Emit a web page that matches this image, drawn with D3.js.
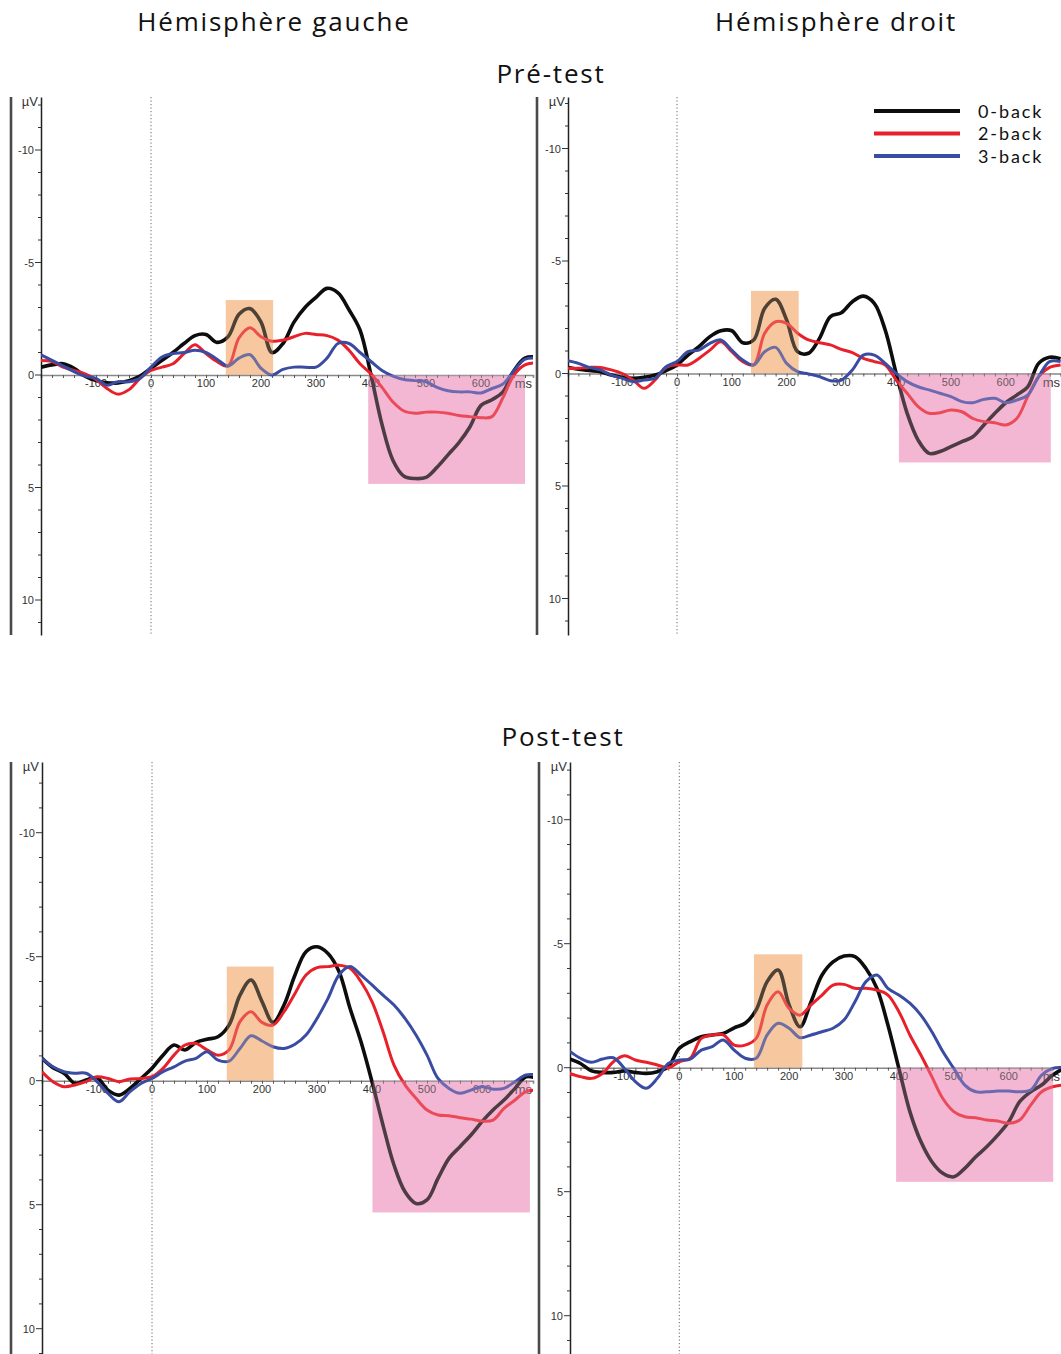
<!DOCTYPE html>
<html><head><meta charset="utf-8">
<script src="https://cdn.jsdelivr.net/npm/d3@7/dist/d3.min.js"></script>
<style>body{margin:0;background:#fff}svg{display:block}</style>
</head><body>
<svg id="c" width="1061" height="1354"></svg>
<script>
// ---------- DATA ----------
const times = d3.range(-200, 701, 20); // ms, -200 .. 700
const seriesNames = ["0-back", "2-back", "3-back"];
const hemispheres = ["Hémisphère gauche", "Hémisphère droit"];
const sessions = ["Pré-test", "Post-test"];
const xTickLabels = [-100, 0, 100, 200, 300, 400, 500, 600];
const yTickLabels = [-10, -5, 0, 5, 10];

// Pré-test, left hemisphere (µV, negative up)
const preLeft0 = [-0.35,-0.45,-0.5,-0.3,0.05,0.25,0.35,0.35,0.25,0.05,-0.3,-0.65,-1.0,-1.4,-1.75,-1.8,-1.45,-1.7,-2.7,-2.95,-2.35,-1.0,-1.4,-2.35,-3.0,-3.45,-3.85,-3.65,-2.9,-2.0,0.0,2.2,3.8,4.5,4.6,4.55,4.1,3.55,3.0,2.3,1.35,1.1,0.75,-0.2,-0.75,-0.8];
const preLeft2 = [-0.65,-0.6,-0.35,-0.2,-0.05,0.2,0.6,0.85,0.65,0.15,-0.2,-0.35,-0.5,-0.95,-1.35,-0.95,-0.6,-0.4,-1.65,-2.1,-1.7,-1.5,-1.55,-1.7,-1.85,-1.8,-1.75,-1.55,-1.1,-0.5,-0.05,0.55,1.2,1.6,1.7,1.65,1.65,1.7,1.8,1.85,1.9,1.85,1.0,0.0,-0.45,-0.55];
const preLeft3 = [-0.9,-0.65,-0.4,-0.15,0.05,0.15,0.45,0.3,0.3,0.15,-0.35,-0.8,-0.95,-1.0,-1.1,-1.0,-0.7,-0.4,-0.75,-0.9,-0.3,0.0,-0.25,-0.35,-0.35,-0.35,-0.75,-1.4,-1.4,-1.0,-0.6,-0.2,0.05,0.2,0.25,0.3,0.55,0.7,0.75,0.75,0.8,0.6,0.4,-0.2,-0.7,-0.75];
// Pré-test, right hemisphere
const preRight0 = [-0.27,-0.19,-0.13,-0.08,0.07,0.17,0.21,0.17,0.07,-0.13,-0.38,-0.82,-1.19,-1.64,-1.9,-1.9,-1.37,-1.49,-2.9,-3.3,-2.38,-0.97,-0.9,-1.56,-2.53,-2.7,-3.19,-3.44,-3.12,-1.93,0.0,1.77,2.96,3.55,3.47,3.25,3.03,2.81,2.29,1.77,1.3,0.96,0.59,-0.45,-0.72,-0.66];
const preRight2 = [-0.23,-0.23,-0.27,-0.27,-0.16,0.0,0.29,0.66,0.29,-0.27,-0.38,-0.38,-0.67,-1.04,-1.41,-0.97,-0.53,-0.38,-1.79,-2.3,-2.23,-1.79,-1.49,-1.37,-1.27,-1.07,-0.93,-0.67,-0.53,-0.38,0.29,0.88,1.47,1.77,1.74,1.62,1.7,2.0,2.14,2.19,2.29,2.0,1.03,0.14,-0.27,-0.38];
const preRight3 = [-0.57,-0.45,-0.27,-0.16,0.07,0.21,0.36,0.29,0.21,-0.3,-0.53,-0.97,-1.04,-1.34,-1.49,-1.04,-0.6,-0.38,-0.97,-1.16,-0.45,-0.08,0.02,0.14,0.32,0.29,-0.16,-0.82,-0.82,-0.45,0.0,0.36,0.59,0.73,0.88,1.03,1.25,1.3,1.15,1.1,1.3,1.18,0.96,0.14,-0.53,-0.53];
// Post-test, left hemisphere
const postLeft0 = [-0.9,-0.52,-0.3,0.11,-0.03,-0.12,0.38,0.58,0.31,-0.09,-0.5,-1.03,-1.44,-1.24,-1.55,-1.67,-1.77,-2.24,-3.45,-4.06,-3.19,-2.35,-3.05,-4.26,-5.2,-5.4,-5.13,-4.4,-2.92,-1.57,0.04,1.79,3.4,4.48,4.95,4.81,3.94,3.13,2.66,2.19,1.65,1.18,0.78,0.31,-0.16,-0.09];
const postLeft2 = [-0.36,0.04,0.24,0.17,0.04,-0.16,-0.09,0.04,-0.07,-0.09,-0.16,-0.5,-1.03,-1.44,-1.5,-1.24,-1.03,-1.24,-2.38,-2.78,-2.35,-2.24,-2.78,-3.52,-4.26,-4.56,-4.6,-4.66,-4.53,-3.99,-3.19,-1.98,-0.63,0.17,0.71,1.18,1.38,1.41,1.49,1.55,1.63,1.59,1.12,0.78,0.44,0.38];
const postLeft3 = [-0.9,-0.56,-0.36,-0.3,-0.3,0.04,0.51,0.85,0.44,0.11,-0.09,-0.36,-0.56,-0.79,-0.9,-1.17,-0.83,-0.79,-1.3,-1.81,-1.6,-1.37,-1.3,-1.47,-1.84,-2.51,-3.32,-4.26,-4.6,-4.26,-3.86,-3.45,-3.05,-2.51,-1.84,-1.03,-0.09,0.31,0.51,0.38,0.24,0.34,0.31,0.04,-0.23,-0.23];
// Post-test, right hemisphere
const postRight0 = [-0.35,-0.17,0.13,0.19,0.19,0.13,0.19,0.23,0.16,-0.04,-0.78,-1.05,-1.25,-1.32,-1.38,-1.61,-1.79,-2.33,-3.47,-3.94,-2.53,-1.65,-2.66,-3.74,-4.27,-4.5,-4.48,-4.0,-3.2,-1.72,0.03,1.77,2.98,3.79,4.26,4.4,4.06,3.59,3.19,2.72,2.18,1.37,0.97,0.7,0.3,0.03];
const postRight2 = [0.23,0.36,0.43,0.23,-0.24,-0.48,-0.31,-0.22,-0.11,0.0,-0.24,-0.38,-1.18,-1.32,-1.32,-0.91,-0.91,-1.18,-2.53,-3.06,-2.39,-2.12,-2.53,-2.93,-3.33,-3.36,-3.2,-3.2,-3.13,-2.93,-2.26,-1.32,-0.51,0.36,1.24,1.77,1.98,2.02,2.11,2.15,2.24,2.11,1.51,0.97,0.77,0.7];
const postRight3 = [-0.67,-0.38,-0.22,-0.35,-0.4,0.03,0.56,0.83,0.43,-0.17,-0.31,-0.35,-0.71,-0.85,-1.12,-0.71,-0.38,-0.38,-1.32,-1.79,-1.59,-1.21,-1.32,-1.45,-1.59,-1.92,-2.66,-3.47,-3.74,-3.2,-2.93,-2.6,-2.12,-1.45,-0.65,0.03,0.7,0.97,0.97,0.94,0.94,0.97,0.9,0.3,0.03,0.0];

// analysis windows (ms) and their extent (µV)
const earlyWindows = [[136,222],[135,222],[136,221],[136,224]];
const earlyTops = [-3.33,-3.67,-4.6,-4.57];
const lateWindows = [[395,680],[405,682],[401,687],[395,681]];
const lateBottoms = [4.84,3.95,5.31,4.6];

// ---------- LAYOUT ----------
const colors = ["#0d0d0d", "#e8202a", "#3a4ca2"];
const widths = [3.6, 3.0, 3.0];
const panels = [
  {s:[preLeft0,preLeft2,preLeft3],  ax:41,  x0:151,   k:0.55,  top:97,  bot:635,  zero:375,    py:22.5, bar:11},
  {s:[preRight0,preRight2,preRight3],ax:568, x0:677,   k:0.548, top:97,  bot:635,  zero:373.5,  py:22.5, bar:537},
  {s:[postLeft0,postLeft2,postLeft3],ax:42,  x0:152,   k:0.55,  top:762, bot:1354, zero:1080.7, py:24.8, bar:11},
  {s:[postRight0,postRight2,postRight3],ax:570,x0:679.3,k:0.549,top:762, bot:1354, zero:1067.7, py:24.8, bar:539}
];
const rightEdge = [533, 1061, 533, 1061];
const svg = d3.select("#c");
const font = "Arial, 'Liberation Sans', sans-serif";
const orange = "#f7c8a0", pink = "#f4b8d3";

panels.forEach((p, i) => {
  const msMin = (p.ax - p.x0) / p.k, msMax = (rightEdge[i] - p.x0) / p.k;
  const x = d3.scaleLinear().domain([msMin, msMax]).range([p.ax, rightEdge[i]]);
  const vTop = (p.top - p.zero) / p.py, vBot = (p.bot - p.zero) / p.py;
  const y = d3.scaleLinear().domain([vTop, vBot]).range([p.top, p.bot]);
  const g = svg.append("g");
  const cid = "clip" + i;
  g.append("clipPath").attr("id", cid).append("rect")
    .attr("x", p.ax).attr("y", p.top).attr("width", rightEdge[i] - p.ax).attr("height", p.bot - p.top);

  // outer bar
  g.append("line").attr("x1", p.bar).attr("x2", p.bar).attr("y1", p.top).attr("y2", p.bot)
    .attr("stroke", "#4a4a4a").attr("stroke-width", 2.6);

  // window underlays
  const e = earlyWindows[i], l = lateWindows[i];
  const rects = [
    {x1: x(e[0]), x2: x(e[1]), y1: y(earlyTops[i]), y2: y(0), c: orange},
    {x1: x(l[0]), x2: x(l[1]), y1: y(0), y2: y(lateBottoms[i]), c: pink}
  ];
  g.selectAll(".under").data(rects).join("rect").attr("class", "under")
    .attr("x", d => d.x1).attr("y", d => d.y1).attr("width", d => d.x2 - d.x1).attr("height", d => d.y2 - d.y1)
    .attr("fill", d => d.c);

  // dotted zero-time line
  g.append("line").attr("x1", x(0)).attr("x2", x(0)).attr("y1", p.top).attr("y2", p.bot)
    .attr("stroke", "#666").attr("stroke-width", 1).attr("stroke-dasharray", "1.2,2.3");

  // x axis at 0 µV
  const xa = d3.axisBottom(x).tickValues(d3.range(-180, msMax, 20)).tickSize(3).tickFormat("");
  const xg = g.append("g").attr("transform", `translate(0,${y(0)})`).call(xa);
  xg.select(".domain").attr("stroke", "#888").attr("stroke-width", 1.6);
  xg.selectAll(".tick line").attr("stroke", "#555");
  g.selectAll(".xl").data(xTickLabels).join("text").attr("class", "xl")
    .attr("x", d => x(d)).attr("y", y(0) + 12).attr("text-anchor", "middle")
    .attr("font-family", font).attr("font-size", 11).attr("fill", "#333").text(d => d);
  g.append("text").attr("x", rightEdge[i] - 1).attr("y", y(0) + 13).attr("text-anchor", "end")
    .attr("font-family", font).attr("font-size", 13).attr("fill", "#333").text("ms");

  // y axis
  const yTicks = d3.range(Math.ceil(vTop), Math.floor(vBot) + 1);
  const ya = d3.axisLeft(y).tickValues(yTicks).tickSize(0).tickFormat("");
  const yg = g.append("g").attr("transform", `translate(${p.ax},0)`).call(ya);
  yg.select(".domain").attr("stroke", "#222").attr("stroke-width", 1.5);
  g.selectAll(".yt").data(yTicks).join("line").attr("class", "yt")
    .attr("x1", d => p.ax - (d % 5 === 0 ? 6 : 3)).attr("x2", p.ax)
    .attr("y1", d => y(d)).attr("y2", d => y(d)).attr("stroke", "#333").attr("stroke-width", 1);
  g.selectAll(".yl").data(yTickLabels).join("text").attr("class", "yl")
    .attr("x", p.ax - 7).attr("y", d => y(d) + 4).attr("text-anchor", "end")
    .attr("font-family", font).attr("font-size", 11).attr("fill", "#333").text(d => d);
  g.append("text").attr("x", p.ax - 3).attr("y", p.top + 9).attr("text-anchor", "end")
    .attr("font-family", font).attr("font-size", 13).attr("fill", "#333").text("µV");

  // ERP lines
  const line = d3.line().x((d, j) => x(times[j])).y(d => y(d)).curve(d3.curveCatmullRom.alpha(0.5));
  const lg = g.append("g").attr("clip-path", `url(#${cid})`);
  p.s.forEach((vals, k) => {
    lg.append("path").attr("d", line(vals)).attr("fill", "none")
      .attr("stroke", colors[k]).attr("stroke-width", widths[k]).attr("stroke-linejoin", "round");
  });

  // window overlays (tint the curves)
  g.selectAll(".over").data(rects).join("rect").attr("class", "over")
    .attr("x", d => d.x1).attr("y", d => d.y1).attr("width", d => d.x2 - d.x1).attr("height", d => d.y2 - d.y1)
    .attr("fill", d => d.c).attr("fill-opacity", 0.28);
});

// titles
const tfont = "'Open Sans', 'Noto Sans', sans-serif";
svg.selectAll(".ht").data(hemispheres).join("text").attr("class", "ht")
  .attr("x", (d, i) => [274, 836][i]).attr("y", 31).attr("text-anchor", "middle")
  .attr("font-family", tfont).attr("font-size", 26).attr("letter-spacing", 1.8).attr("fill", "#111").text(d => d);
svg.selectAll(".st").data(sessions).join("text").attr("class", "st")
  .attr("x", (d, i) => [551, 563][i]).attr("y", (d, i) => [83, 746][i]).attr("text-anchor", "middle")
  .attr("font-family", tfont).attr("font-size", 26).attr("letter-spacing", 1.8).attr("fill", "#111").text(d => d);

// legend
const lgd = svg.append("g");
seriesNames.forEach((n, k) => {
  const yy = 111 + k * 22.5;
  lgd.append("line").attr("x1", 874).attr("x2", 960).attr("y1", yy).attr("y2", yy)
    .attr("stroke", colors[k]).attr("stroke-width", 4);
  lgd.append("text").attr("x", 978).attr("y", yy + 6.5).attr("font-family", "Lato, sans-serif")
    .attr("font-size", 18).attr("letter-spacing", 1.9).attr("fill", "#111").text(n);
});
</script>
</body></html>
